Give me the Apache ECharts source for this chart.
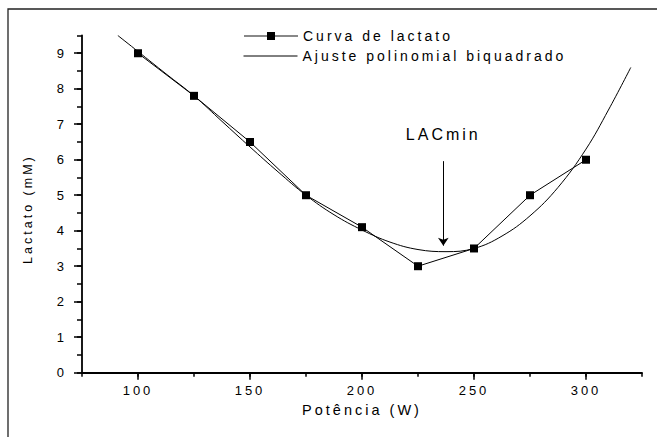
<!DOCTYPE html>
<html><head><meta charset="utf-8">
<script src="https://cdn.jsdelivr.net/npm/echarts@6/dist/echarts.min.js"></script>
<style>
html,body{margin:0;padding:0;background:#fff}
#c{width:657px;height:437px}
#c text{letter-spacing:3px}
</style>
</head><body><div id="c"></div>
<script>
// Axis ticks
const xTicks = [100, 150, 200, 250, 300];
const yTicks = [0, 1, 2, 3, 4, 5, 6, 7, 8, 9];
// Lactate curve (measured points)
const lactX = [100, 125, 150, 175, 200, 225, 250, 275, 300];
const lactY = [9, 7.8, 6.5, 5, 4.1, 3, 3.5, 5, 6];
// Biquadratic polynomial fit
const fitX = [91, 100, 112.5, 125, 137.5, 150, 162.5, 175, 187.5, 200, 212.5, 225, 237.5, 250, 262.5, 275, 287.5, 300, 310, 320];
const fitY = [9.5, 9.05, 8.42, 7.8, 7.08, 6.36, 5.66, 5.0, 4.45, 4.02, 3.68, 3.47, 3.41, 3.5, 3.85, 4.42, 5.22, 6.3, 7.4, 8.6];
// LACmin annotation
const lacMinX = 236.3;
const lacMinArrowY = [5.96, 3.58];
const lacMinLabelY = 6.71;
const names = ['Curva de lactato', 'Ajuste polinomial biquadrado'];

const FONT = 'Liberation Sans, Arial, sans-serif';
const zip = (a, b) => a.map((v, i) => [v, b[i]]);

const chart = echarts.init(document.getElementById('c'), null, {renderer: 'svg'});
chart.setOption({
  animation: false,
  backgroundColor: '#fff',
  textStyle: {fontFamily: FONT, color: '#000'},
  graphic: [{
    type: 'rect', silent: true, z: 0,
    shape: {x: 8, y: 9, width: 900, height: 700},
    style: {fill: 'none', stroke: '#222', lineWidth: 1.3}
  }],
  grid: {left: 82, right: 15, top: 35.5, bottom: 64.3, containLabel: false},
  legend: [{
    orient: 'vertical', left: 243, top: 29, padding: 0,
    itemWidth: 54, itemHeight: 10, itemGap: 0,
    textStyle: {fontSize: 14, color: '#000', fontFamily: FONT, padding: [0, 0, 14, 0]},
    data: [{name: names[0], lineStyle: {color: '#888', width: 2}, itemStyle: {color: '#000'}}]
  }, {
    orient: 'vertical', left: 243, top: 49, padding: 0,
    itemWidth: 54, itemHeight: 10, itemGap: 0,
    textStyle: {fontSize: 14, color: '#000', fontFamily: FONT, padding: [0, 0, 14, 0]},
    data: [{name: names[1], lineStyle: {color: '#000', width: 1}, itemStyle: {color: 'rgba(0,0,0,0)', borderWidth: 0, opacity: 0}}]
  }],
  xAxis: [{
    type: 'value', min: 75, max: 325, interval: 25, position: 'bottom',
    name: 'Potência (W)', nameLocation: 'middle', nameGap: 30,
    nameTextStyle: {fontSize: 14.5, color: '#000', fontFamily: FONT},
    axisLine: {show: true, onZero: false, lineStyle: {color: '#000', width: 1.8}},
    axisTick: {show: true, inside: false, length: 4, lineStyle: {color: '#000', width: 1.5}},
    axisLabel: {fontSize: 13, color: '#000', margin: 11, fontFamily: FONT,
      formatter: v => xTicks.includes(v) ? String(v) : ''},
    splitLine: {show: false}
  }, {
    type: 'value', min: 75, max: 325, interval: 25, position: 'bottom',
    axisLine: {show: false},
    axisTick: {show: true, inside: false, length: 7, customValues: xTicks, lineStyle: {color: '#000', width: 1.5}},
    axisLabel: {show: false},
    splitLine: {show: false}
  }],
  yAxis: [{
    type: 'value', min: 0, max: 9.5, interval: 0.5, position: 'left',
    name: 'Lactato (mM)', nameLocation: 'middle', nameGap: 48,
    nameTextStyle: {fontSize: 12.5, color: '#000', fontFamily: FONT, padding: [0, 10, 0, 0]},
    axisLine: {show: true, onZero: false, lineStyle: {color: '#000', width: 1.8}},
    axisTick: {show: true, inside: false, length: 5, lineStyle: {color: '#000', width: 1.5}},
    axisLabel: {fontSize: 13, color: '#000', margin: 15, fontFamily: FONT,
      formatter: v => yTicks.includes(v) ? String(v) : ''},
    splitLine: {show: false}
  }, {
    type: 'value', min: 0, max: 9.5, interval: 0.5, position: 'left',
    axisLine: {show: false},
    axisTick: {show: true, inside: false, length: 8, customValues: yTicks, lineStyle: {color: '#000', width: 1.5}},
    axisLabel: {show: false},
    splitLine: {show: false}
  }],
  series: [{
    name: names[0], type: 'line', xAxisIndex: 0, yAxisIndex: 0,
    data: zip(lactX, lactY),
    symbol: 'rect', symbolSize: 8, showSymbol: true,
    lineStyle: {color: '#000', width: 1},
    itemStyle: {color: '#000', borderWidth: 0},
    z: 3
  }, {
    name: names[1], type: 'line', xAxisIndex: 0, yAxisIndex: 0,
    data: zip(fitX, fitY),
    symbol: 'none', showSymbol: false, smooth: 0.4,
    lineStyle: {color: '#000', width: 1},
    itemStyle: {color: '#000'},
    z: 2,
    markLine: {
      silent: true, symbol: ['none', 'arrow'], symbolSize: 8,
      lineStyle: {color: '#000', width: 1, type: 'solid'},
      label: {show: false},
      data: [[{coord: [lacMinX, lacMinArrowY[0]]}, {coord: [lacMinX, lacMinArrowY[1]]}]]
    },
    markPoint: {
      silent: true, symbol: 'rect', symbolSize: 1,
      itemStyle: {color: 'rgba(0,0,0,0)'},
      label: {show: true, position: 'inside', formatter: 'LACmin', fontSize: 16, color: '#000', fontFamily: FONT},
      data: [{coord: [lacMinX, lacMinLabelY]}]
    }
  }]
});
</script>
</body></html>
